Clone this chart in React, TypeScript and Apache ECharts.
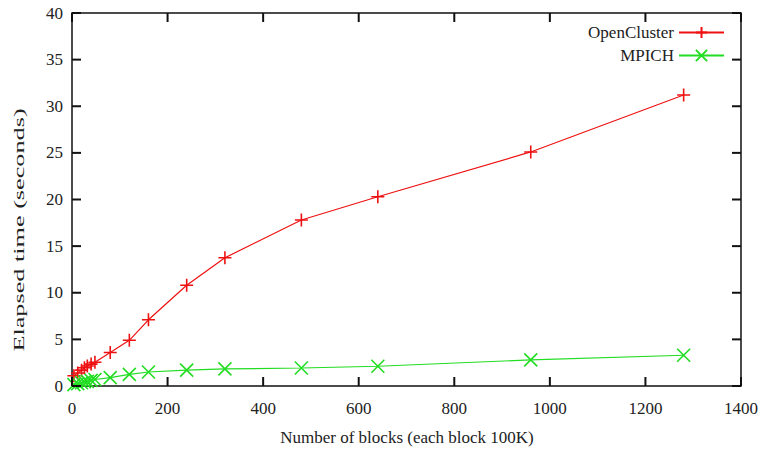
import React, { useEffect, useRef } from "react";
import * as echarts from "echarts";

const blocks = [4, 12, 20, 26, 32, 40, 48, 80, 120, 160, 240, 320, 480, 640, 960, 1280];
const openCluster = [1.1, 1.4, 1.7, 1.95, 2.15, 2.35, 2.55, 3.6, 4.9, 7.1, 10.8, 13.75, 17.8, 20.3, 25.1, 31.2];
const mpich = [0.15, 0.25, 0.35, 0.45, 0.5, 0.6, 0.7, 0.9, 1.25, 1.5, 1.7, 1.83, 1.93, 2.12, 2.8, 3.3];
const xTicks = [0, 200, 400, 600, 800, 1000, 1200, 1400];
const yTicks = [0, 5, 10, 15, 20, 25, 30, 35, 40];
const seriesNames = ["OpenCluster", "MPICH"];
const xTitle = "Number of blocks (each block 100K)";
const yTitle = "Elapsed time (seconds)";

const FONT = "Liberation Serif";
const TICK = 9;
const AXIS_COLOR = "#111";

export default function App() {
  const ref = useRef<HTMLDivElement>(null);
  useEffect(() => {
    document.body.style.margin = "0";
    const chart = echarts.init(ref.current!, null, { renderer: "svg" });
    const label = () => ({ fontFamily: FONT, fontSize: 17, color: "#222", formatter: (v: number) => String(v) });
    const plus = "path://M0,6L12,6M6,0L6,12";
    const cross = "path://M0,0L12,12M12,0L0,12";
    const tickStyle = { stroke: AXIS_COLOR, lineWidth: 2 };
    chart.setOption({
      animation: false,
      backgroundColor: "#fff",
      textStyle: { fontFamily: FONT },
      grid: {
        left: 72, right: 22, top: 13, bottom: 68, containLabel: false,
        show: true, borderColor: AXIS_COLOR, borderWidth: 1.5, backgroundColor: "transparent",
      },
      legend: {
        orient: "vertical",
        right: 33,
        top: 19,
        align: "right",
        itemWidth: 45,
        itemHeight: 14,
        itemGap: 6,
        textStyle: { fontFamily: FONT, fontSize: 17, color: "#222" },
        data: seriesNames,
      },
      xAxis: {
        type: "value", min: 0, max: 1400, interval: 200, position: "bottom",
        axisLine: { show: false, onZero: false }, axisTick: { show: false }, splitLine: { show: false },
        axisLabel: { ...label(), margin: 14 },
      },
      yAxis: {
        type: "value", min: 0, max: 40, interval: 5, position: "left",
        axisLine: { show: false, onZero: false }, axisTick: { show: false }, splitLine: { show: false },
        axisLabel: { ...label(), margin: 9 },
      },
      graphic: [
        {
          type: "text", x: 407, y: 437,
          style: { text: xTitle, fontFamily: FONT, fontSize: 17, fill: "#222", align: "center", verticalAlign: "middle" },
        },
        {
          type: "text", x: 19, y: 230, rotation: Math.PI / 2, scaleX: 1.75,
          style: { text: yTitle, fontFamily: FONT, fontSize: 15, fill: "#222", align: "center", verticalAlign: "middle" },
        },
      ],
      series: [
        {
          name: "xTicks", type: "custom", silent: true, z: 5, clip: false,
          data: xTicks.map((v) => [v, 0]),
          encode: { x: 0, y: 1 },
          renderItem: (params: any, api: any) => {
            const cs = params.coordSys;
            const px = api.coord([api.value(0), 0])[0];
            const bottom = cs.y + cs.height;
            return {
              type: "group",
              children: [
                { type: "line", shape: { x1: px, y1: bottom, x2: px, y2: bottom - TICK }, style: tickStyle },
                { type: "line", shape: { x1: px, y1: cs.y, x2: px, y2: cs.y + TICK }, style: tickStyle },
              ],
            };
          },
        },
        {
          name: "yTicks", type: "custom", silent: true, z: 5, clip: false,
          data: yTicks.map((v) => [0, v]),
          encode: { x: 0, y: 1 },
          renderItem: (params: any, api: any) => {
            const cs = params.coordSys;
            const py = api.coord([0, api.value(1)])[1];
            const right = cs.x + cs.width;
            return {
              type: "group",
              children: [
                { type: "line", shape: { x1: cs.x, y1: py, x2: cs.x + TICK, y2: py }, style: tickStyle },
                { type: "line", shape: { x1: right, y1: py, x2: right - TICK, y2: py }, style: tickStyle },
              ],
            };
          },
        },
        {
          name: seriesNames[0], type: "line",
          data: blocks.map((b, i) => [b, openCluster[i]]),
          symbol: plus, symbolSize: 13,
          lineStyle: { color: "#ee1111", width: 1.2 },
          itemStyle: { color: "#ee1111", borderColor: "#ee1111", borderWidth: 1.6 },
        },
        {
          name: seriesNames[1], type: "line",
          data: blocks.map((b, i) => [b, mpich[i]]),
          symbol: cross, symbolSize: 13,
          lineStyle: { color: "#22dd22", width: 1.2 },
          itemStyle: { color: "#22dd22", borderColor: "#22dd22", borderWidth: 1.6 },
        },
      ],
    });
    return () => chart.dispose();
  }, []);
  return <div ref={ref} style={{ position: "fixed", left: 0, top: 0, width: 763, height: 454 }} />;
}
